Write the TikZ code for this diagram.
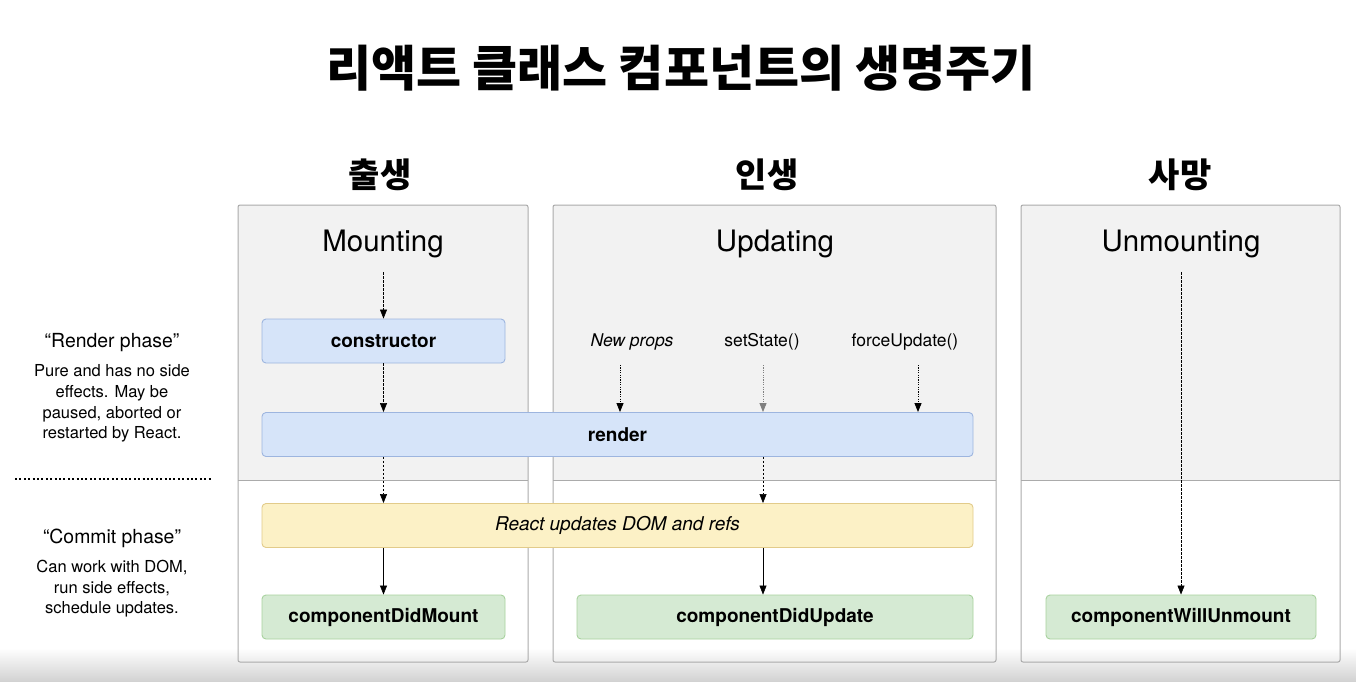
\documentclass[tikz,border=0pt]{standalone}
\usepackage{fontspec}
\setmainfont{TeX Gyre Heros}
\newfontfamily\kofont{Noto Sans CJK KR}
\usepackage{xcolor}
\usepackage{tikz}
\usetikzlibrary{arrows.meta,calc,positioning}

\definecolor{colbg}{HTML}{F2F2F2}
\definecolor{colline}{HTML}{ABABAB}
\definecolor{bluefill}{HTML}{D6E4F9}
\definecolor{blueline}{HTML}{9DB5DF}
\definecolor{yellowfill}{HTML}{FCF1C6}
\definecolor{yellowline}{HTML}{E2CB8A}
\definecolor{greenfill}{HTML}{D5EAD3}
\definecolor{greenline}{HTML}{A8D29E}

\tikzset{
  phasebox/.style={draw=colline, line width=1pt, rounded corners=2pt},
  lifebox/.style={rectangle, rounded corners=4pt, line width=0.9pt, minimum height=44pt,
    inner sep=0pt, font=\fontsize{19}{23}\selectfont\bfseries},
  bluebox/.style={lifebox, draw=blueline, fill=bluefill},
  yellowbox/.style={lifebox, draw=yellowline, fill=yellowfill},
  greenbox/.style={lifebox, draw=greenline, fill=greenfill},
  kohead/.style={font=\kofont\fontsize{34}{40}\selectfont\bfseries},
  colhead/.style={font=\fontsize{29.5}{34}\selectfont},
  trigger/.style={font=\fontsize{17.5}{21}\selectfont},
  phasetitle/.style={font=\fontsize{19.4}{23}\selectfont},
  phasenote/.style={font=\fontsize{16.5}{20.6}\selectfont, align=center, inner sep=0pt},
  flow/.style={-{Triangle[width=7pt,length=9pt]}, line width=0.6pt},
  dashflow/.style={flow, dash pattern=on 2.5pt off 1.5pt},
  dotflow/.style={flow, line width=0.9pt, dash pattern=on 1.2pt off 1.2pt},
}

\begin{document}
\begin{tikzpicture}[x=1pt, y=-1pt]
\useasboundingbox (0,0) rectangle (1356,681);

% ---- screen background ----
\fill[white] (0,0) rectangle (1356,681);
\shade[top color=white, bottom color=gray!35] (0,648) rectangle (1356,681);

% ---- title ----
\node[font=\kofont\fontsize{49}{56}\selectfont\bfseries] (title) at (681,68)
  {리액트 클래스 컴포넌트의 생명주기};

% ---- three columns (render part shaded, commit part white) ----
\foreach \xa/\xb in {238/528, 553/996, 1021/1340} {
  \fill[colbg] (\xa,205) rectangle (\xb,480);
  \draw[colline] (\xa,480) -- (\xb,480);
  \draw[phasebox] (\xa,205) rectangle (\xb,662);
}

\node[kohead] (birth) at (380,175) {출생};
\node[kohead] (life)  at (767,175) {인생};
\node[kohead] (death) at (1180,175) {사망};

\node[colhead] (mountT)   at (383,244)  {Mounting};
\node[colhead] (updateT)  at (775,244)  {Updating};
\node[colhead] (unmountT) at (1181,244) {Unmounting};

% ---- lifecycle methods ----
\node[bluebox, minimum width=243pt] (ctor) at (383.5,341) {constructor};
\node[bluebox, minimum width=711pt] (render) at (617.5,434.5) {render};
\node[yellowbox, minimum width=711pt] (commit) at (617.5,525.5)
  {\mdseries\itshape React updates DOM and refs};
\node[greenbox, minimum width=243pt] (didMount)    at (383.5,617) {componentDidMount};
\node[greenbox, minimum width=396pt] (didUpdate)   at (775,617)   {componentDidUpdate};
\node[greenbox, minimum width=270pt] (willUnmount) at (1181,617)  {componentWillUnmount};

% ---- update triggers ----
\node[trigger, font=\fontsize{17.5}{21}\selectfont\itshape] (newProps) at (632,342) {New props};
\node[trigger] (setState) at (762,342) {setState()};
\node[trigger] (forceUpd) at (905,342) {forceUpdate()};

% ---- arrows ----
\coordinate (mountIn) at (383.5,272);
\coordinate (npIn) at (620,365);
\coordinate (ssIn) at (763,365);
\coordinate (fuIn) at (918,365);
\coordinate (unmountIn) at (1181,272);

\draw[dashflow] (mountIn) -- (ctor.north);
\draw[dashflow] (ctor.south) -- (ctor.south |- render.north);
\draw[dashflow] (ctor.south |- render.south) -- (ctor.south |- commit.north);
\draw[flow] (ctor.south |- commit.south) -- (didMount.north);

\draw[dotflow] (npIn) -- (npIn |- render.north);
\draw[dotflow, gray] (ssIn) -- (ssIn |- render.north);
\draw[dotflow] (fuIn) -- (fuIn |- render.north);
\draw[dashflow] (ssIn |- render.south) -- (ssIn |- commit.north);
\draw[flow] (ssIn |- commit.south) -- (ssIn |- didUpdate.north);

\draw[dashflow] (unmountIn) -- (willUnmount.north);

% ---- phase notes on the left ----
\node[phasetitle] (renderPh) at (112,343) {“Render phase”};
\node[phasenote, below=9pt of renderPh] (renderNote)
  {Pure and has no side\\effects. May be\\paused, aborted or\\restarted by React.};

\draw[line width=2.4pt, dash pattern=on 2pt off 2.4pt] (15,479) -- (212,479);

\node[phasetitle] (commitPh) at (112,538) {“Commit phase”};
\node[phasenote, below=9pt of commitPh] (commitNote)
  {Can work with DOM,\\run side effects,\\schedule updates.};

\end{tikzpicture}
\end{document}
